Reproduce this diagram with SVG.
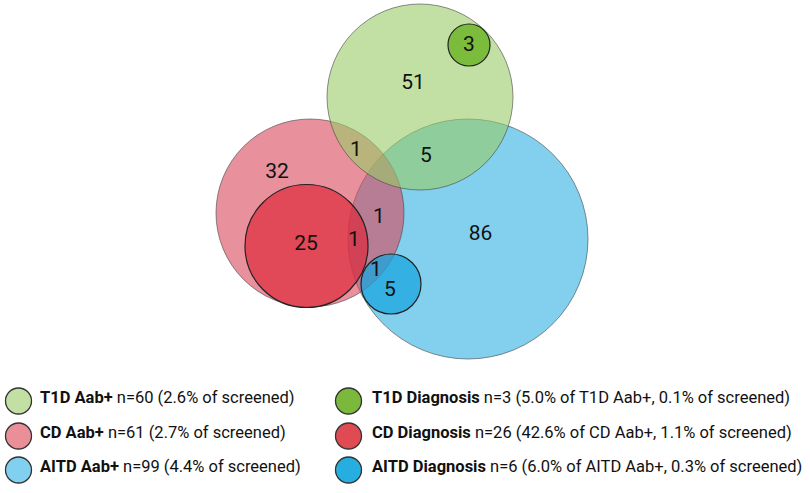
<svg xmlns="http://www.w3.org/2000/svg" width="810" height="493" viewBox="0 0 810 493">
<style>
.num{font-family:Roboto,"Liberation Sans",sans-serif;font-size:21px;fill:#111;text-anchor:middle}
.big{stroke:#444;stroke-opacity:0.6;stroke-width:1}
.inner{stroke:#222;stroke-width:1.2}
.lg{font-family:Roboto,"Liberation Sans",sans-serif;font-size:16.5px;fill:#111}
.lg tspan.b{font-weight:bold}
.key{stroke:#333;stroke-width:1.3}
</style>
<rect width="810" height="493" fill="#fff"/>
<g id="venn">
<g id="aitd-aab"><circle class="big" cx="468" cy="239" r="120" fill="#2fb1e3" fill-opacity="0.6"/></g>
<g id="cd-aab"><circle class="big" cx="310" cy="213" r="94" fill="#d9465a" fill-opacity="0.6"/></g>
<g id="t1d-aab"><circle class="big" cx="420" cy="97" r="93" fill="#99cc68" fill-opacity="0.6"/></g>
<g id="cd-dx"><circle class="inner" cx="306.5" cy="246" r="61.5" fill="#de2a3c" fill-opacity="0.7"/></g>
<g id="aitd-dx"><circle class="inner" cx="391" cy="284" r="30" fill="#1aa6df" fill-opacity="0.75"/></g>
<g id="t1d-dx"><circle class="inner" cx="469" cy="45" r="21" fill="#6fb52c" fill-opacity="0.85"/></g>
</g>
<g id="counts">
<text class="num" x="469" y="51">3</text>
<text class="num" x="413" y="88.5">51</text>
<text class="num" x="356" y="155.5">1</text>
<text class="num" x="426" y="161.5">5</text>
<text class="num" x="277" y="177.5">32</text>
<text class="num" x="306" y="250">25</text>
<text class="num" x="354" y="246">1</text>
<text class="num" x="379" y="222.5">1</text>
<text class="num" x="480.5" y="239.5">86</text>
<text class="num" x="376" y="276">1</text>
<text class="num" x="390" y="296">5</text>
</g>
<g id="legend">
<g id="lg-t1d"><circle class="key" cx="18.5" cy="401" r="13" fill="#c2e0a4"/><text class="lg" x="40" y="403"><tspan class="b">T1D Aab+</tspan> n=60 (2.6% of screened)</text></g>
<g id="lg-cd"><circle class="key" cx="18.5" cy="436" r="13" fill="#ea8f97"/><text class="lg" x="40" y="438"><tspan class="b">CD Aab+</tspan> n=61 (2.7% of screened)</text></g>
<g id="lg-aitd"><circle class="key" cx="18.5" cy="470" r="13" fill="#82d0ef"/><text class="lg" x="40" y="472"><tspan class="b">AITD Aab+</tspan> n=99 (4.4% of screened)</text></g>
<g id="lg-t1d-dx"><circle class="key" cx="348.5" cy="401" r="13" fill="#7ab93c"/><text class="lg" x="372" y="403"><tspan class="b">T1D Diagnosis</tspan> n=3 (5.0% of T1D Aab+, 0.1% of screened)</text></g>
<g id="lg-cd-dx"><circle class="key" cx="348.5" cy="436" r="13" fill="#e04a52"/><text class="lg" x="372" y="438"><tspan class="b">CD Diagnosis</tspan> n=26 (42.6% of CD Aab+, 1.1% of screened)</text></g>
<g id="lg-aitd-dx"><circle class="key" cx="348.5" cy="470" r="13" fill="#27aee0"/><text class="lg" x="372" y="472"><tspan class="b">AITD Diagnosis</tspan> n=6 (6.0% of AITD Aab+, 0.3% of screened)</text></g>
</g>
</svg>
